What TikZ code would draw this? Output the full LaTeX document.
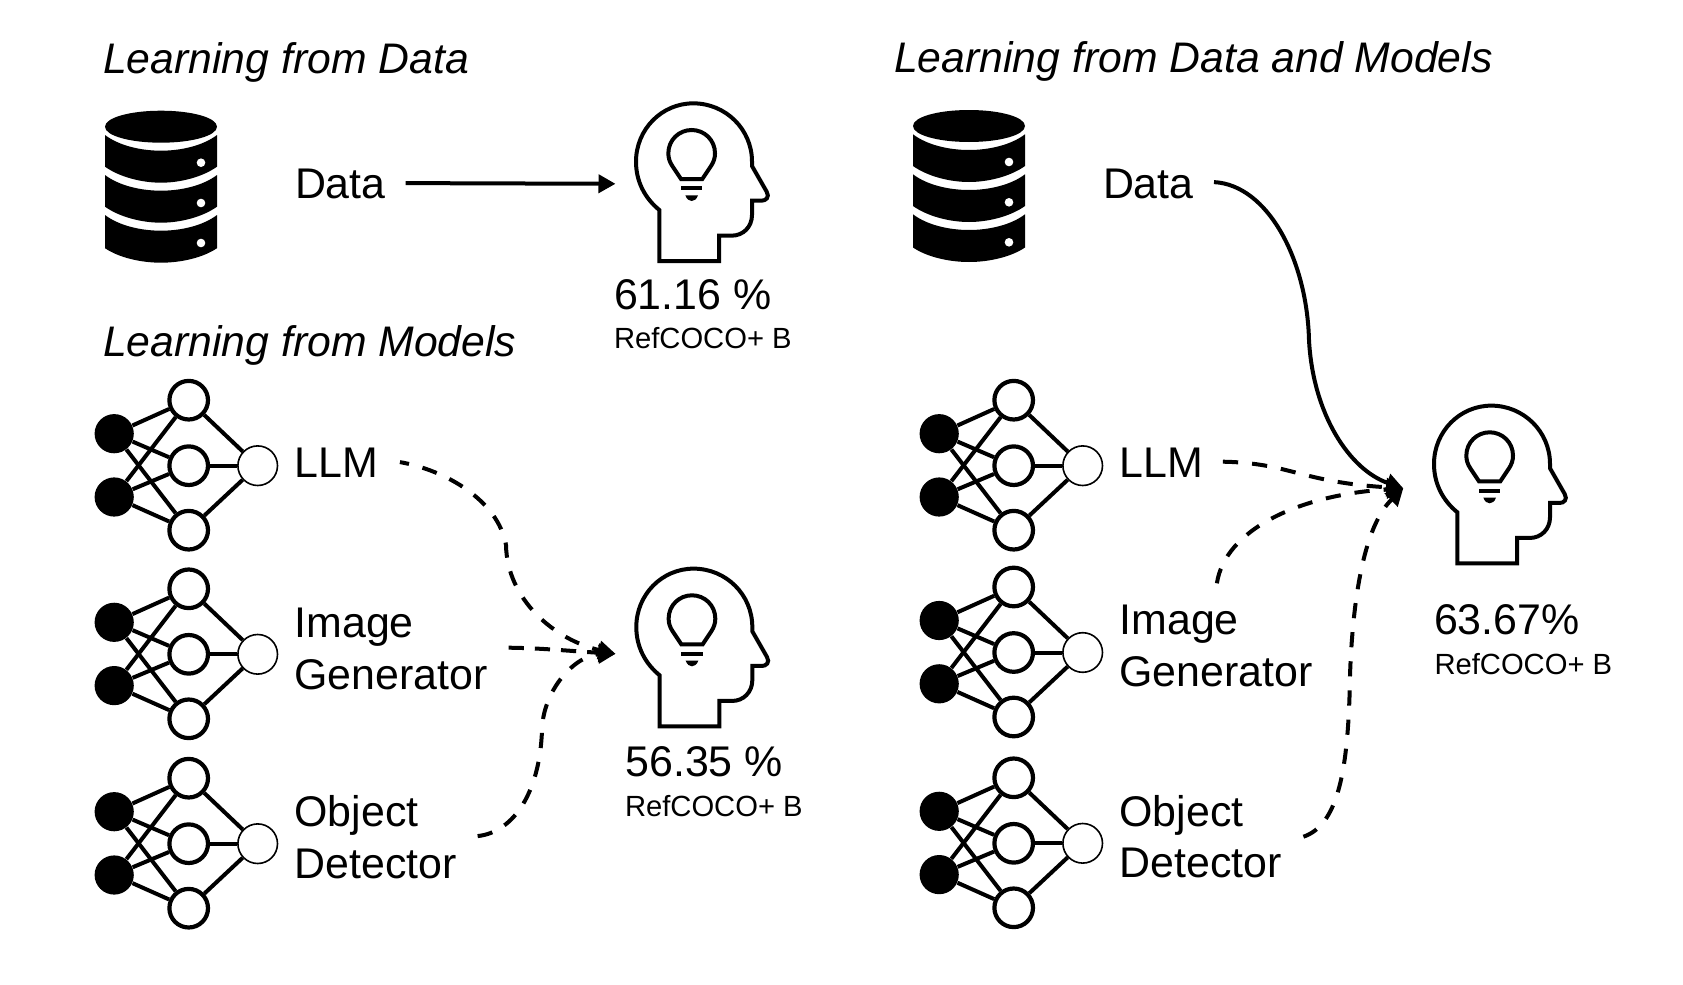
\documentclass[tikz,border=0pt]{standalone}
\usepackage{fontspec}
\setmainfont{Liberation Sans}
\usetikzlibrary{arrows.meta}
\tikzset{
  bigtxt/.style={anchor=base west,inner sep=0pt,outer sep=0pt,font=\fontsize{21.45}{26}\selectfont},
  ttl/.style={anchor=base west,inner sep=0pt,outer sep=0pt,font=\fontsize{21.37}{26}\selectfont\itshape},
  smalltxt/.style={anchor=base west,inner sep=0pt,outer sep=0pt,font=\fontsize{14.6}{18}\selectfont},
  inputn/.style={circle,fill=black,draw=none,inner sep=0pt,minimum size=19.6pt},
  hiddenn/.style={circle,fill=white,draw=black,line width=2.1pt,inner sep=0pt,minimum size=19.3pt},
  outputn/.style={circle,fill=white,draw=black,line width=.8pt,inner sep=0pt,minimum size=19.8pt},
  netedge/.style={line width=2pt,black},
  iconline/.style={line width=2pt,black},
  conn/.style={line width=2pt,black,-{Triangle[length=8.5pt,width=9pt]}},
  dashconn/.style={conn,dash pattern=on 7.6pt off 7pt},
  dashtight/.style={conn,dash pattern=on 7.6pt off 5.5pt}
}
\newcommand{\nnet}[3]{%
  \begin{scope}[shift={(#2,#3)}]
    \node[inputn] (#1i1) at (-74.5,-32) {};
    \node[inputn] (#1i2) at (-74.5,31.3) {};
    \node[hiddenn] (#1h1) at (0,-65.5) {};
    \node[hiddenn] (#1h2) at (0,0) {};
    \node[hiddenn] (#1h3) at (0,64.5) {};
    \node[outputn] (#1o) at (69,0) {};
    \foreach \a in {i1,i2}{\foreach \b in {h1,h2,h3}{\draw[netedge] (#1\a) -- (#1\b);}}
    \foreach \b in {h1,h2,h3}{\draw[netedge] (#1\b) -- (#1o);}
  \end{scope}}
\newcommand{\dbicon}[2]{%
  \begin{scope}[shift={(#1,#2)}]
    \fill[black] (-56,0) .. controls (-56,-9) and (-31,-16) .. (0,-16) .. controls (31,-16) and (56,-9) .. (56,0) .. controls (56,9) and (31,16) .. (0,16) .. controls (-31,16) and (-56,9) .. (-56,0) -- cycle;
    \foreach \d in {0,40}{
      \fill[black,yshift=-\d*0.5pt] (-56,8.3) .. controls (-42,19) and (-20,24) .. (0,24) .. controls (20,24) and (42,19) .. (56,8.3) -- (56,40) .. controls (42,50) and (20,56) .. (0,56) .. controls (-20,56) and (-42,50) .. (-56,40) -- cycle;
    }
    \fill[black] (-56,88.3) .. controls (-42,99) and (-20,104) .. (0,104) .. controls (20,104) and (42,99) .. (56,88.3) -- (56,121.5) .. controls (42,131) and (20,136) .. (0,136) .. controls (-20,136) and (-42,131) .. (-56,121.5) -- cycle;
    \foreach \d in {36,76.3,116.3}{\fill[white] (40,\d) circle (4.3);}
  \end{scope}}
\newcommand{\headicon}[2]{%
  \begin{scope}[shift={(#1,#2)},x=0.16667pt,y=-0.16667pt]
    \draw[iconline] (178,513) -- (178,360) .. controls (135,325) and (108,275) .. (108,215)
      .. controls (108,118) and (185,40) .. (280,40) .. controls (377,40) and (456,118) .. (456,215)
      -- (456,228) -- (500,305) .. controls (510,322) and (497,332) .. (485,332) -- (456,332) -- (456,375)
      .. controls (456,410) and (430,437) .. (395,437) -- (357,437) -- (357,513) -- cycle;
    \draw[iconline] (243,267) -- (217,228) .. controls (209,216) and (205,204) .. (205,190)
      .. controls (205,150) and (237,120) .. (275,120) .. controls (313,120) and (345,150) .. (345,190)
      .. controls (345,204) and (341,216) .. (333,228) -- (307,267) -- cycle;
    \draw[iconline] (243,295) -- (307,295);
    \fill[black] (256,316) -- (294,316) .. controls (290,328) and (282,333) .. (275,333) .. controls (268,333) and (260,328) .. (256,316) -- cycle;
  \end{scope}}
\begin{document}
\begin{tikzpicture}[x=0.5pt,y=-0.5pt]
\useasboundingbox (0,0) rectangle (1683,985);
% titles
\node[ttl] (t1) at (103,73.8) {Learning from Data};
\node[ttl] (t2) at (103,356) {Learning from Models};
\node[ttl] (t3) at (894,72.7) {Learning from Data and Models};
% icons
\dbicon{161}{126.7}
\dbicon{969}{126}
\headicon{600}{90}
\headicon{600.3}{555.3}
\headicon{1398}{392.3}
\nnet{a}{188.7}{465.7}
\nnet{b}{188.7}{654.3}
\nnet{c}{188.7}{843.7}
\nnet{d}{1013.7}{465.7}
\nnet{e}{1013.7}{652.5}
\nnet{f}{1013.7}{843.3}
% labels
\node[bigtxt] (data1) at (295,198.9) {Data};
\node[bigtxt] (llm1) at (294.5,477.9) {LLM};
\node[bigtxt] (img1) at (294.5,637.9) {Image};
\node[bigtxt] (gen1) at (294.5,689.5) {Generator};
\node[bigtxt] (obj1) at (294.5,826.2) {Object};
\node[bigtxt] (det1) at (294.5,878.5) {Detector};
\node[bigtxt] (data2) at (1103,198.9) {Data};
\node[bigtxt] (llm2) at (1119.5,477.9) {LLM};
\node[bigtxt] (img2) at (1119.5,634.5) {Image};
\node[bigtxt] (gen2) at (1119.5,686.2) {Generator};
\node[bigtxt] (obj2) at (1119.5,826.2) {Object};
\node[bigtxt] (det2) at (1119.5,877.9) {Detector};
\node[bigtxt] (s1) at (614,309.5) {61.16 \%};
\node[smalltxt] (r1) at (614,348.8) {RefCOCO+ B};
\node[bigtxt] (s2) at (625.5,776.2) {56.35 \%};
\node[smalltxt] (r2) at (625,816) {RefCOCO+ B};
\node[bigtxt] (s3) at (1434,634.5) {63.67\%};
\node[smalltxt] (r3) at (1434.5,674.5) {RefCOCO+ B};
% arrow targets
\coordinate (tipA) at (615.5,183.8);
\coordinate (tipB) at (615.5,653.8);
\coordinate (tipC) at (1403.3,488.3);
% connectors
\draw[conn] ([xshift=10pt,yshift=7.9pt]data1.base east) -- (tipA);
\draw[dashconn,dash phase=3pt] ([xshift=11pt,yshift=7.9pt]llm1.base east) .. controls (445,470) and (498,500) .. (506,545) .. controls (507,600) and (555,640) .. (tipB);
\draw[dashtight] ([xshift=10.5pt,yshift=20.9pt]gen1.base east) .. controls (540,648) and (570,651) .. (tipB);
\draw[dashconn] ([xshift=10.5pt,yshift=21.2pt]det1.base east) .. controls (515,832) and (540,790) .. (542,730) .. controls (543,690) and (575,655) .. (tipB);
\draw[conn] ([xshift=10.2pt,yshift=8.4pt]data2.base east) .. controls (1268,185) and (1307,260) .. (1309,340) .. controls (1313,415) and (1350,470) .. (tipC);
\draw[dashconn] ([xshift=10pt,yshift=8.1pt]llm2.base east) .. controls (1290,463) and (1300,482) .. (tipC);
\draw[dashconn] ([xshift=48.7pt,yshift=25.6pt]img2.base west) .. controls (1225,530) and (1298,495) .. (tipC);
\draw[dashconn] ([xshift=10.9pt,yshift=20.6pt]det2.base east) .. controls (1338,825) and (1347,770) .. (1349.5,697) .. controls (1350.5,620) and (1360,530) .. (tipC);
\end{tikzpicture}
\end{document}
